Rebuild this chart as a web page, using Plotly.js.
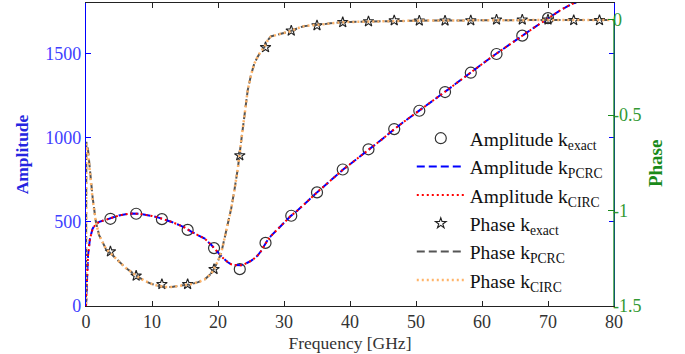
<!DOCTYPE html>
<html>
<head>
<meta charset="utf-8">
<script src="https://cdn.plot.ly/plotly-3.0.1.min.js"></script>
<style>html,body{margin:0;padding:0;background:#fff;}#chart{width:685px;height:354px;}</style>
</head>
<body>
<div id="chart"></div>
<script>
// ---- data ----
const sampleF = [3.7,7.6,11.5,15.4,19.4,23.3,27.2,31.1,35.0,38.9,42.8,46.7,50.5,54.4,58.3,62.2,66.1,70.0,73.9,77.8];
const ampExact = [518,548,516,452,344,219,375,536,675,811,931,1051,1160,1271,1386,1497,1606,1710,1830,1940];
const phaseExact = [-1.215,-1.342,-1.386,-1.386,-1.307,-0.711,-0.145,-0.058,-0.030,-0.014,-0.009,-0.004,-0.005,-0.005,-0.004,0,0,0,-0.003,-0.003];

const ampCurveF = [0,0.1,0.3,0.6,1,1.5,2,3,4,5,6,7,8,9,10,11,12,13,14,15,16,17,18,19,19.4,20,20.8,21.5,22,22.5,23,23.5,24,24.5,25,25.5,26,26.5,27,27.5,28,29,30,31,32,33,34,35,36,37,38,39,40,41,42,43,44,45,46,47,48,49,50,51,52,53,54,55,56,57,58,59,60,61,62,63,64,65,66,67,68,69,70,71,72,73,74,75,76,77,78,79,80];
const ampPCRC = [0,160,300,400,460,488,500,512,527,538,545,549,548,543,535,525,513,499,483,465,440,421,400,362,344,315,283,260,248,243,241,242,248,257,268,283,300,325,362,390,415,455,495,534,566,600,638,675,710,745,778,812,842,872,903,935,965,995,1028,1060,1090,1118,1146,1176,1205,1233,1261,1290,1320,1350,1378,1408,1437,1466,1494,1522,1550,1578,1604,1630,1657,1683,1710,1735,1760,1782,1800,1825,1850,1875,1900,1925,1950];
const ampCIRC = [0,158,298,398,458,487,500,512,527,538,545,549,548,543,535,525,513,499,483,465,440,421,400,362,344,315,283,260,248,243,241,242,248,257,268,283,300,325,362,390,415,455,495,534,566,600,638,675,710,745,778,812,842,872,903,935,965,995,1028,1060,1090,1118,1146,1176,1205,1233,1261,1290,1320,1350,1378,1408,1437,1466,1494,1522,1550,1578,1604,1630,1657,1683,1710,1735,1760,1782,1800,1825,1850,1875,1900,1925,1950];

const phaseCurveF = [0,0.05,0.3,0.6,1,1.5,2,3,4,5,6,7,8,9,10,11,12,13,14,15,16,17,18,19,20,20.5,21,21.5,22,22.5,23,23.5,24,24.5,25,25.5,26,26.5,27,27.5,28,29,30,31,32,33,34,35,36,37,38,39,40,42,44,46,48,50,55,60,65,70,75,80];
const phasePCRC = [-1.49,-0.64,-0.68,-0.80,-0.93,-1.06,-1.13,-1.20,-1.235,-1.27,-1.30,-1.325,-1.35,-1.37,-1.385,-1.395,-1.40,-1.40,-1.395,-1.39,-1.385,-1.375,-1.36,-1.33,-1.265,-1.22,-1.14,-1.07,-0.99,-0.89,-0.78,-0.64,-0.49,-0.37,-0.29,-0.23,-0.195,-0.165,-0.145,-0.11,-0.088,-0.078,-0.07,-0.06,-0.045,-0.034,-0.03,-0.028,-0.024,-0.019,-0.015,-0.013,-0.012,-0.01,-0.008,-0.006,-0.005,-0.005,-0.004,-0.003,-0.001,0,-0.001,-0.002];
const phaseCIRC = [-1.49,-0.65,-0.70,-0.81,-0.94,-1.06,-1.13,-1.20,-1.235,-1.27,-1.30,-1.325,-1.35,-1.37,-1.385,-1.395,-1.40,-1.40,-1.395,-1.39,-1.385,-1.375,-1.36,-1.33,-1.265,-1.22,-1.14,-1.07,-0.99,-0.89,-0.78,-0.64,-0.49,-0.37,-0.29,-0.23,-0.195,-0.165,-0.145,-0.11,-0.088,-0.078,-0.07,-0.06,-0.045,-0.034,-0.03,-0.028,-0.024,-0.019,-0.015,-0.013,-0.012,-0.01,-0.008,-0.006,-0.005,-0.005,-0.004,-0.003,-0.001,0,-0.001,-0.002];

const xTicks = [0,10,20,30,40,50,60,70,80];
const ampTicks = [0,500,1000,1500];
const phaseTicks = [-1.5,-1,-0.5,0];
const phaseTickText = ['-1.5','-1','-0.5','0'];

const SERIF = '"Liberation Serif", serif';

const traces = [
  {x: sampleF, y: ampExact, name: 'Amplitude k<sub>exact</sub>', mode: 'markers', type: 'scatter',
   marker: {symbol: 'circle-open', size: 11, color: '#333', line: {width: 1.2}}},
  {x: ampCurveF, y: ampPCRC, name: 'Amplitude k<sub>PCRC</sub>', mode: 'lines', type: 'scatter',
   line: {color: '#0000ff', width: 2, dash: '8px,4px'}},
  {x: ampCurveF, y: ampCIRC, name: 'Amplitude k<sub>CIRC</sub>', mode: 'lines', type: 'scatter',
   line: {color: '#ff0000', width: 2, dash: '2px,3px'}},
  {x: sampleF, y: phaseExact, name: 'Phase k<sub>exact</sub>', mode: 'markers', type: 'scatter', yaxis: 'y2',
   marker: {symbol: 'star-open', size: 8, color: '#222', line: {width: 1.1}}},
  {x: phaseCurveF, y: phasePCRC, name: 'Phase k<sub>PCRC</sub>', mode: 'lines', type: 'scatter', yaxis: 'y2',
   line: {color: '#555555', width: 2, dash: '8px,4px'}},
  {x: phaseCurveF, y: phaseCIRC, name: 'Phase k<sub>CIRC</sub>', mode: 'lines', type: 'scatter', yaxis: 'y2',
   line: {color: 'rgb(255,180,105)', width: 2.5, dash: '2px,3px'}}
];

const layout = {
  width: 685, height: 354,
  margin: {l: 86, r: 71, t: 3, b: 48, pad: 0},
  paper_bgcolor: '#fff', plot_bgcolor: '#fff',
  font: {family: SERIF, size: 18, color: '#333'},
  showlegend: true,
  legend: {x: 0.617, y: 0.617, xanchor: 'left', yanchor: 'top', bgcolor: 'rgba(0,0,0,0)',
           font: {family: SERIF, size: 19.5, color: '#111'}, itemwidth: 48, tracegroupgap: 0},
  xaxis: {range: [0, 80], tickvals: xTicks, ticks: 'inside', ticklen: 5, tickcolor: '#222',
          showline: true, linecolor: '#222', linewidth: 1.3, mirror: 'ticks',
          showgrid: false, zeroline: false, ticklabelstandoff: -1,
          tickfont: {family: SERIF, size: 18, color: '#333'},
          title: {text: 'Frequency [GHz]', font: {family: SERIF, size: 17.5, color: '#333'}, standoff: 5}},
  yaxis: {range: [0, 1800], tickvals: ampTicks, ticks: 'inside', ticklen: 5, tickcolor: '#0000ff',
          showline: true, linecolor: '#0000ff', linewidth: 1.3, mirror: 'ticks',
          showgrid: false, zeroline: false,
          tickfont: {family: SERIF, size: 18, color: '#4040ff'},
          title: {text: '<b>Amplitude</b>', font: {family: SERIF, size: 17.5, color: '#2525e0'}, standoff: 12}},
  yaxis2: {range: [-1.5, 0.0875], overlaying: 'y', side: 'right', tickvals: phaseTicks, ticktext: phaseTickText,
           ticks: 'inside', ticklen: 6, tickcolor: '#1a8a1a', showline: false,
           showgrid: false, zeroline: false, ticklabelstandoff: -2,
           tickfont: {family: SERIF, size: 18, color: '#339933'}},
  shapes: [
    {type: 'line', xref: 'paper', yref: 'y2', x0: 1, x1: 1, y0: -1.5, y1: 0, layer: 'above',
     line: {color: '#1a8a1a', width: 1.3}}
  ],
  annotations: [
    {text: '<b>Phase</b>', xref: 'paper', yref: 'y2', x: 1.08, y: -0.75, showarrow: false, textangle: -90,
     xanchor: 'center', yanchor: 'middle', font: {family: SERIF, size: 19, color: '#1a8a1a'}}
  ]
};

Plotly.newPlot('chart', traces, layout, {displayModeBar: false});
</script>
</body>
</html>
